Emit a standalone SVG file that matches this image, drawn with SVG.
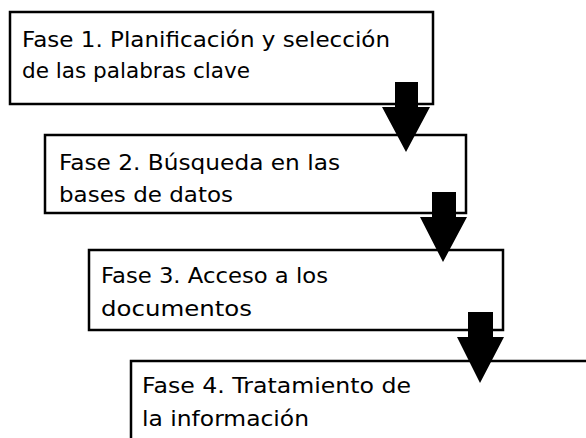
<svg xmlns="http://www.w3.org/2000/svg" width="586" height="438" viewBox="0 0 586 438">
<style>
.box{fill:#fff;stroke:#000;stroke-width:2.5}
.t{font-family:"DejaVu Sans","Open Sans","Liberation Sans",sans-serif;font-size:20.5px;fill:#000}
.arr{fill:#000;stroke:none}
</style>
<rect width="586" height="438" fill="#fff"/>
<g id="fase1">
<rect class="box" x="10" y="12" width="423" height="92"/>
<text class="t" x="22" y="47" textLength="368" lengthAdjust="spacingAndGlyphs">Fase 1. Planificación y selección</text>
<text class="t" x="22" y="78" textLength="228" lengthAdjust="spacingAndGlyphs">de las palabras clave</text>
</g>
<g id="fase2">
<rect class="box" x="45" y="135" width="421" height="78"/>
<text class="t" x="59" y="170" textLength="281" lengthAdjust="spacingAndGlyphs">Fase 2. Búsqueda en las</text>
<text class="t" x="59" y="202" textLength="174" lengthAdjust="spacingAndGlyphs">bases de datos</text>
</g>
<g id="fase3">
<rect class="box" x="89" y="250" width="414" height="80"/>
<text class="t" x="101" y="283" textLength="227" lengthAdjust="spacingAndGlyphs">Fase 3. Acceso a los</text>
<text class="t" x="101" y="316" textLength="151" lengthAdjust="spacingAndGlyphs">documentos</text>
</g>
<g id="fase4">
<rect class="box" x="131" y="361" width="470" height="90"/>
<text class="t" x="142" y="393" textLength="269" lengthAdjust="spacingAndGlyphs">Fase 4. Tratamiento de</text>
<text class="t" x="142" y="426" textLength="167" lengthAdjust="spacingAndGlyphs">la información</text>
</g>
<g id="connectors">
<polygon class="arr" points="395,82 418,82 418,107 430,107 406,152 382,107 395,107"/>
<polygon class="arr" points="432,192 456,192 456,217 467,217 443,262 420,217 432,217"/>
<polygon class="arr" points="468,312 493,312 493,337 504,337 480,383 457,337 468,337"/>
</g>
</svg>
